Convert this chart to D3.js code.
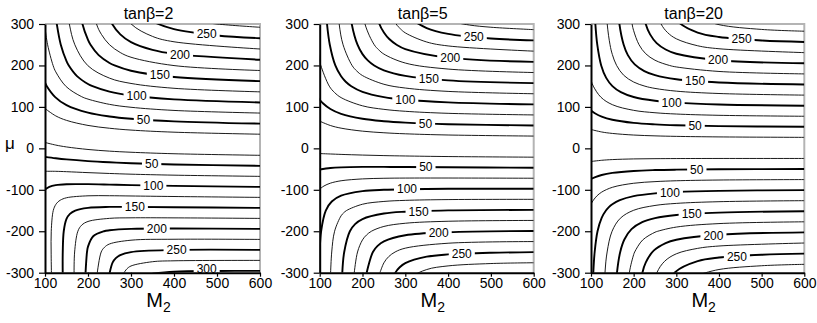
<!DOCTYPE html>
<html>
<head>
<meta charset="utf-8">
<script src="https://cdn.jsdelivr.net/npm/d3@7"></script>
<style>
  body { margin: 0; background: #fff; }
  text { font-family: Arial, 'Liberation Sans', Helvetica, sans-serif; }
</style>
</head>
<body>
<svg id="chart" width="817" height="323"></svg>
<script>
// chargino mass contours (GeV) in the (M2, mu) plane, three values of tan beta
const panelTitles = ['tanβ=2', 'tanβ=5', 'tanβ=20']
const xTicks = [100, 200, 300, 400, 500, 600]
const yTicks = [-300, -200, -100, 0, 100, 200, 300]
const thickLevels = [50, 100, 150, 200, 250, 300]

// each contour: [level, [[M2, mu], ...]]
const tb2Pos = [
  [25, [[100, 96.1], [125, 78.3], [150, 67.5], [200, 55.3], [250, 48.5], [300, 44.1], [400, 39.0], [600, 34.1]]],
  [50, [[100, 158.4], [104.2, 150], [123.7, 123.7], [150, 104.2], [200, 86.0], [250, 76.8], [300, 71.4], [400, 65.2], [600, 59.6]]],
  [75, [[99.1, 300], [100, 291.7], [106.1, 250], [118.8, 200], [125, 184.6], [149.1, 149.1], [184.6, 125], [200, 118.8], [250, 106.1], [300, 99.1], [400, 91.5], [600, 85.1]]],
  [100, [[125, 318.5], [127.4, 300], [136.7, 250], [150, 210.6], [155.3, 200], [174.4, 174.4], [200, 155.3], [210.6, 150], [250, 136.7], [300, 127.4], [400, 118.1], [600, 110.7]]],
  [125, [[150, 344.9], [156.6, 300], [169.4, 250], [199.6, 199.6], [250, 169.4], [300, 156.6], [400, 144.9], [600, 136.3]]],
  [150, [[172.0, 400], [187.1, 300], [200, 261.8], [205.9, 250], [224.8, 224.8], [250, 205.9], [261.8, 200], [300, 187.1], [400, 172.0], [600, 162.1]]],
  [175, [[199.7, 400], [219.8, 300], [231.2, 275], [250, 250], [275, 231.2], [300, 219.8], [400, 199.7], [600, 187.8]]],
  [200, [[227.9, 400], [237.4, 350], [256.3, 300], [275.1, 275.1], [300, 256.3], [350, 237.4], [400, 227.9], [600, 213.7]]],
  [225, [[257.1, 400], [270.1, 350], [300.2, 300.2], [350, 270.1], [400, 257.1], [600, 239.7]]],
  [250, [[287.6, 400], [306.6, 350], [325, 325], [350, 306.6], [400, 287.6], [500, 272.4], [600, 265.8]]],
  [275, [[400, 320.3], [450, 307.2], [500, 300.0], [600, 292.1]]]
]
const tb2Neg = [
  [25, [[100, 14.2], [125, 7.9], [150, 3.4], [200, -2.7], [250, -6.7], [300, -9.4], [400, -13.0], [600, -16.8]]],
  [50, [[100, -20.5], [125, -23.9], [150, -26.7], [200, -30.8], [250, -33.7], [300, -35.9], [400, -38.9], [600, -42.2]]],
  [75, [[100, -55.3], [125, -55.4], [150, -56.3], [200, -58.6], [250, -60.6], [300, -62.3], [400, -64.7], [600, -67.6]]],
  [100, [[100, -99.1], [110, -92.7], [125, -88.6], [150, -86.5], [200, -86.4], [250, -87.4], [300, -88.6], [400, -90.5], [600, -93.0]]],
  [125, [[114.9, -300], [114.3, -250], [114.5, -200], [119.2, -150], [125, -135.6], [129.7, -129.7], [135.6, -125], [150, -119.2], [200, -114.5], [250, -114.3], [300, -114.9], [400, -116.2], [600, -118.3]]],
  [150, [[141.2, -300], [141.3, -250], [143.6, -200], [150, -170.3], [158, -158], [170.3, -150], [200, -143.6], [250, -141.3], [300, -141.2], [400, -142.0], [600, -143.7]]],
  [175, [[167.6, -300], [168.9, -250], [176.4, -200], [185.3, -185.3], [200, -176.4], [250, -168.9], [300, -167.6], [400, -167.7], [600, -169.0]]],
  [200, [[194.3, -300], [197.7, -250], [200, -237.1], [212.1, -212.1], [237.1, -200], [250, -197.7], [300, -194.3], [400, -193.4], [600, -194.3]]],
  [225, [[221.6, -300], [230.7, -250], [238.5, -238.5], [250, -230.7], [300, -221.6], [400, -219.3], [600, -219.7]]],
  [250, [[250, -302], [257.4, -275], [264.7, -264.7], [275, -257.4], [300, -250.3], [400, -245.2], [600, -245.0]]],
  [275, [[283.8, -300], [290.6, -290.6], [300, -283.8], [350, -273.5], [400, -271.3], [600, -270.3]]],
  [300, [[350, -302.2], [400, -297.7], [500, -295.9], [600, -295.7]]]
]

const tb5Pos = [
  [25, [[100, 65.6], [125, 55.1], [150, 48.7], [200, 41.5], [250, 37.6], [300, 35.1], [400, 32.2], [600, 29.6]]],
  [50, [[94.8, 125], [100, 117.3], [108.1, 108.1], [125, 94.8], [150, 83.1], [200, 71.3], [250, 65.5], [300, 62.1], [400, 58.3], [600, 55.1]]],
  [75, [[94.1, 250], [100, 211.9], [102.6, 200], [122.4, 150], [134.7, 134.7], [150, 122.4], [200, 102.6], [250, 94.1], [300, 89.4], [400, 84.5], [600, 80.6]]],
  [100, [[110.9, 400], [117.1, 300], [123.6, 250], [136.5, 200], [150, 173.8], [160.8, 160.8], [173.8, 150], [200, 136.5], [250, 123.6], [300, 117.1], [400, 110.9], [600, 106.1]]],
  [125, [[137.4, 400], [145.5, 300], [154.6, 250], [175.6, 200], [186.6, 186.6], [200, 175.6], [250, 154.6], [300, 145.5], [400, 137.4], [600, 131.7]]],
  [150, [[164.1, 400], [174.9, 300], [188.3, 250], [200, 227.3], [212.3, 212.3], [227.3, 200], [250, 188.3], [300, 174.9], [400, 164.1], [600, 157.3]]],
  [175, [[191.3, 400], [205.8, 300], [227.4, 250], [237.8, 237.8], [250, 227.4], [300, 205.8], [400, 191.3], [600, 182.9]]],
  [200, [[218.8, 400], [239.5, 300], [250, 279.6], [263.1, 263.1], [279.6, 250], [300, 239.5], [400, 218.8], [600, 208.7]]],
  [225, [[247.1, 400], [256.6, 350], [278.6, 300], [288.5, 288.5], [300, 278.6], [350, 256.6], [400, 247.1], [600, 234.5]]],
  [250, [[276.3, 400], [290.3, 350], [313.7, 313.7], [350, 290.3], [400, 276.3], [500, 265.1], [600, 260.4]]],
  [275, [[400, 307.2], [450, 297.5], [500, 292.2], [600, 286.4]]]
]
const tb5Neg = [
  [25, [[100, -12.6], [125, -13.6], [150, -14.6], [200, -16.2], [250, -17.5], [300, -18.4], [400, -19.8], [600, -21.3]]],
  [50, [[100, -51.0], [125, -47.4], [150, -45.8], [200, -44.8], [250, -44.8], [300, -45.1], [400, -45.7], [600, -46.7]]],
  [75, [[100, -98.3], [110, -90.8], [125, -84.0], [150, -78.2], [200, -73.7], [250, -72.2], [300, -71.7], [400, -71.6], [600, -72.1]]],
  [100, [[98.5, -300], [99.9, -250], [103.3, -200], [114.2, -150], [128.2, -128.2], [150, -114.2], [200, -103.3], [250, -99.9], [300, -98.5], [400, -97.6], [600, -97.6]]],
  [125, [[125.5, -300], [128.1, -250], [134.8, -200], [150, -162.7], [155.8, -155.8], [162.7, -150], [200, -134.8], [250, -128.1], [300, -125.5], [400, -123.6], [600, -123.0]]],
  [150, [[152.8, -300], [157.3, -250], [170.5, -200], [182.7, -182.7], [200, -170.5], [250, -157.3], [300, -152.8], [400, -149.7], [600, -148.4]]],
  [175, [[180.7, -300], [188.4, -250], [200, -220.8], [209.2, -209.2], [220.8, -200], [250, -188.4], [300, -180.7], [400, -175.9], [600, -173.9]]],
  [200, [[209.7, -300], [224.3, -250], [235.3, -235.3], [250, -224.3], [300, -209.7], [400, -202.3], [600, -199.4]]],
  [225, [[240.8, -300], [250, -276.2], [261.2, -261.2], [276.2, -250], [300, -240.8], [400, -228.9], [600, -224.9]]],
  [250, [[261.3, -350], [276.8, -300], [286.9, -286.9], [300, -276.8], [350, -261.3], [400, -255.9], [500, -251.9], [600, -250.4]]],
  [275, [[292.4, -350], [312.5, -312.5], [350, -292.4], [400, -283.6], [500, -277.9], [600, -276.0]]]
]

const tb20Pos = [
  [25, [[100, 45.5], [125, 39.5], [150, 36.0], [200, 32.1], [250, 30.1], [300, 28.9], [400, 27.6], [600, 26.5]]],
  [50, [[100, 91.2], [110, 84.1], [125, 76.6], [150, 69.0], [200, 61.4], [250, 57.8], [300, 55.8], [400, 53.7], [600, 52.0]]],
  [75, [[91.7, 200], [100, 164.3], [105.4, 150], [123.3, 123.3], [150, 105.4], [200, 91.7], [250, 85.9], [300, 82.8], [400, 79.7], [600, 77.4]]],
  [100, [[105.9, 400], [110.2, 300], [114.7, 250], [123.9, 200], [135.6, 170], [150.2, 150.2], [170, 135.6], [200, 123.9], [250, 114.7], [300, 110.2], [400, 105.9], [600, 102.9]]],
  [125, [[132.3, 400], [138.0, 300], [144.6, 250], [150, 226.5], [160, 200], [176.5, 176.5], [200, 160], [226.5, 150], [250, 144.6], [300, 138.0], [400, 132.3], [600, 128.4]]],
  [150, [[158.8, 400], [166.6, 300], [176.6, 250], [186.4, 225], [202.5, 202.5], [225, 186.4], [250, 176.6], [300, 166.6], [400, 158.8], [600, 154.0]]],
  [175, [[185.5, 400], [196.4, 300], [200, 283.9], [212.6, 250], [228.3, 228.3], [250, 212.6], [283.9, 200], [300, 196.4], [400, 185.5], [600, 179.6]]],
  [200, [[212.7, 400], [228.3, 300], [238.5, 275], [253.9, 253.9], [275, 238.5], [300, 228.3], [400, 212.7], [600, 205.2]]],
  [225, [[240.3, 400], [247.5, 350], [264.3, 300], [279.4, 279.4], [300, 264.3], [350, 247.5], [400, 240.3], [600, 230.9]]],
  [250, [[268.7, 400], [279.4, 350], [304.9, 304.9], [350, 279.4], [400, 268.7], [500, 260.2], [600, 256.7]]],
  [275, [[350, 315.5], [400, 298.4], [500, 286.9], [600, 282.6]]]
]
const tb20Neg = [
  [25, [[100, -31.7], [125, -28.8], [150, -27.1], [200, -25.5], [250, -24.9], [300, -24.6], [400, -24.4], [600, -24.4]]],
  [50, [[100, -74.0], [110, -69.3], [125, -64.3], [150, -59.3], [200, -54.5], [250, -52.4], [300, -51.4], [400, -50.4], [600, -49.8]]],
  [75, [[94, -150], [100, -134.8], [105.6, -125], [114.3, -114.3], [125, -105.6], [150, -94.0], [200, -84.2], [250, -80.3], [300, -78.2], [400, -76.4], [600, -75.3]]],
  [100, [[102.5, -400], [105.4, -300], [108.6, -250], [115.3, -200], [125, -167.6], [135, -150], [141.9, -141.9], [150, -135], [167.6, -125], [200, -115.3], [250, -108.6], [300, -105.4], [400, -102.5], [600, -100.7]]],
  [125, [[128.7, -400], [132.8, -300], [137.8, -250], [149.4, -200], [168.7, -168.7], [200, -149.4], [250, -137.8], [300, -132.8], [400, -128.7], [600, -126.2]]],
  [150, [[155.0, -400], [160.9, -300], [168.5, -250], [178.2, -220], [195, -195], [220, -178.2], [250, -168.5], [300, -160.9], [400, -155.0], [600, -151.7]]],
  [175, [[181.5, -400], [189.9, -300], [200, -256.4], [202.4, -250], [221.1, -221.1], [250, -202.4], [256.4, -200], [300, -189.9], [400, -181.5], [600, -177.2]]],
  [200, [[208.4, -400], [220.5, -300], [228.5, -275], [246.9, -246.9], [275, -228.5], [300, -220.5], [400, -208.4], [600, -202.8]]],
  [225, [[235.6, -400], [241.3, -350], [254.4, -300], [272.5, -272.5], [300, -254.4], [350, -241.3], [400, -235.6], [600, -228.4]]],
  [250, [[263.4, -400], [271.9, -350], [298, -298], [350, -271.9], [400, -263.4], [500, -256.8], [600, -254.1]]],
  [275, [[350, -305.8], [400, -292.3], [500, -283.2], [600, -279.8]]]
]

// contour labels: [level, M2 where the label sits]
const tb2PosLabels = [[50, 329], [100, 313], [150, 367], [200, 414], [250, 476]]
const tb2NegLabels = [[50, 348], [100, 352], [150, 309], [200, 360], [250, 406], [300, 476]]
const tb5PosLabels = [[50, 347], [100, 300], [150, 355], [200, 405], [250, 460]]
const tb5NegLabels = [[50, 348], [100, 304], [150, 331], [200, 378], [250, 432]]
const tb20PosLabels = [[50, 344], [100, 289], [150, 344], [200, 398], [250, 453]]
const tb20NegLabels = [[50, 348], [100, 285], [150, 336], [200, 387], [250, 442]]

const panels = [
  { title: panelTitles[0], lines: tb2Pos.concat(tb2Neg), labels: [[tb2Pos, tb2PosLabels], [tb2Neg, tb2NegLabels]] },
  { title: panelTitles[1], lines: tb5Pos.concat(tb5Neg), labels: [[tb5Pos, tb5PosLabels], [tb5Neg, tb5NegLabels]] },
  { title: panelTitles[2], lines: tb20Pos.concat(tb20Neg), labels: [[tb20Pos, tb20PosLabels], [tb20Neg, tb20NegLabels]] }
]

const svg = d3.select('#chart')
const xRanges = [[45, 260], [319.7, 533.7], [591, 804.3]]
const yScale = d3.scaleLinear().domain([-300, 300]).range([272.7, 24])

// mu on a contour at a given M2 (linear between the read points)
function muAt (pts, m2) {
  const sorted = pts.slice().sort((a, b) => a[0] - b[0])
  const i = d3.bisector(d => d[0]).left(sorted, m2)
  if (i <= 0) return sorted[0][1]
  if (i >= sorted.length) return sorted[sorted.length - 1][1]
  const a = sorted[i - 1]
  const b = sorted[i]
  return a[1] + (b[1] - a[1]) * (m2 - a[0]) / (b[0] - a[0])
}

panels.forEach(function (p, i) {
  const xScale = d3.scaleLinear().domain([100, 600]).range(xRanges[i])
  const g = svg.append('g')

  const clipId = 'clip' + i
  svg.append('clipPath').attr('id', clipId)
    .append('rect')
    .attr('x', xScale(100)).attr('y', yScale(300))
    .attr('width', xScale(600) - xScale(100))
    .attr('height', yScale(-300) - yScale(300))

  // grey frame on top and right
  g.append('path')
    .attr('d', 'M' + xScale(100) + ',' + yScale(300) + 'H' + xScale(600) + 'V' + yScale(-300))
    .attr('fill', 'none')
    .attr('stroke', '#b4b4b4')
    .attr('stroke-width', 2)

  const line = d3.line()
    .x(d => xScale(d[0]))
    .y(d => yScale(d[1]))
    .curve(d3.curveCatmullRom.alpha(0.5))

  g.append('g').attr('clip-path', 'url(#' + clipId + ')')
    .selectAll('path')
    .data(p.lines)
    .join('path')
    .attr('d', d => line(d[1]))
    .attr('fill', 'none')
    .attr('stroke', '#000')
    .attr('stroke-width', d => thickLevels.includes(d[0]) ? 1.9 : 0.9)

  // labels with a white gap in the line
  p.labels.forEach(function (pair) {
    const contours = pair[0]
    pair[1].forEach(function (lab) {
      const c = contours.find(d => d[0] === lab[0])
      const lx = xScale(lab[1])
      // keep the label clear of the bottom tick labels
      const ly = Math.min(yScale(muAt(c[1], lab[1])), yScale(-300) - 4)
      const lg = g.append('g')
      const rect = lg.append('rect').attr('fill', '#fff')
      const t = lg.append('text')
        .attr('x', lx).attr('y', ly).attr('dy', '0.36em')
        .attr('text-anchor', 'middle')
        .attr('font-size', 12)
        .attr('fill', '#000')
        .attr('stroke', '#fff').attr('stroke-width', 2.5)
        .attr('paint-order', 'stroke')
        .text(lab[0])
      const w = t.node().getComputedTextLength()
      rect.attr('x', lx - w / 2 - 3).attr('y', ly - 3.5)
        .attr('width', w + 6).attr('height', 7)
    })
  })

  // axes (plain hyphen for negatives, as in the original)
  const yAxis = g.append('g')
    .attr('transform', 'translate(' + xScale(100) + ',0)')
    .call(d3.axisLeft(yScale).tickValues(yTicks).tickFormat(d => String(d))
      .tickSize(6).tickSizeOuter(0).tickPadding(5))
  const xAxis = g.append('g')
    .attr('transform', 'translate(0,' + yScale(-300) + ')')
    .call(d3.axisBottom(xScale).tickValues(xTicks).tickFormat(d => String(d))
      .tickSize(4).tickSizeOuter(0).tickPadding(1))
  ;[yAxis, xAxis].forEach(function (ax) {
    ax.select('.domain').attr('stroke', '#000').attr('stroke-width', 2)
    ax.selectAll('.tick line').attr('stroke', '#000').attr('stroke-width', 1.2)
    ax.selectAll('.tick text')
      .attr('fill', '#000')
      .style('font-size', '14px')
      .style('font-family', 'Arial, "Liberation Sans", Helvetica, sans-serif')
  })

  const cx = (xScale(100) + xScale(600)) / 2
  g.append('text')
    .attr('x', cx - 4).attr('y', 19)
    .attr('text-anchor', 'middle')
    .attr('font-size', 16)
    .text(p.title)

  const m2 = g.append('text')
    .attr('x', cx + 6).attr('y', 306.5)
    .attr('text-anchor', 'middle')
    .attr('font-size', 20)
  m2.append('tspan').text('M')
  m2.append('tspan').attr('font-size', 14).attr('dy', 5).text('2')
})

svg.append('text')
  .attr('x', 5).attr('y', 148.5)
  .attr('font-size', 17)
  .text('μ')
</script>
</body>
</html>
